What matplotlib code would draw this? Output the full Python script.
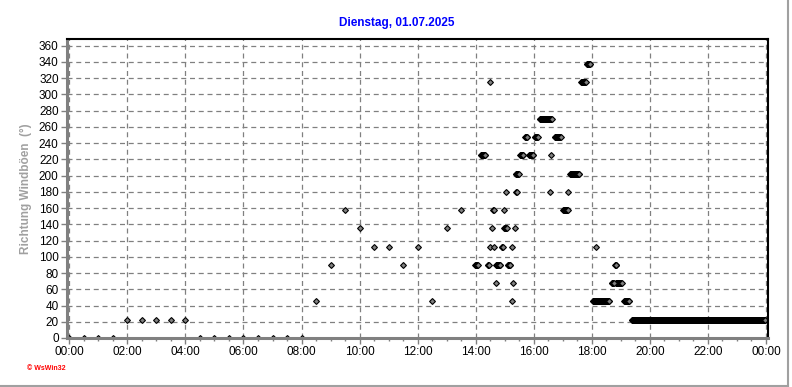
import matplotlib
matplotlib.use("Agg")
import matplotlib.pyplot as plt
from matplotlib.lines import Line2D
import numpy as np

plt.rcParams['font.family'] = ['Liberation Sans', 'DejaVu Sans']

# Einzelwerte (Uhrzeit, Richtung in Grad)
einzel_zeit = ["00:00", "00:30", "01:00", "01:30", "02:00", "02:30", "03:00", "03:30",
               "04:00", "04:30", "05:00", "05:30", "06:00", "06:30", "07:00", "07:30",
               "08:00", "08:30", "09:00", "09:30", "10:00", "10:30", "11:00", "11:30",
               "12:00", "12:30", "13:00", "13:30",
               "14:29", "14:30", "14:33", "14:38", "14:41", "14:58", "15:03", "15:15",
               "15:16", "15:18", "15:21", "16:34", "16:36", "17:11", "18:08"]
einzel_wert = [0, 0, 0, 0, 22.5, 22.5, 22.5, 22.5,
               22.5, 0, 0, 0, 0, 0, 0, 0,
               0, 45, 90, 157.5, 135, 112.5, 112.5, 90,
               112.5, 45, 135, 157.5,
               112.5, 315, 135, 112.5, 67.5, 157.5, 180, 112.5,
               45, 67.5, 135, 180, 225, 180, 112.5]

# Serien mit gleichbleibender Richtung (Beginn, Ende, Richtung), Messung jede Minute
serie_start = ["13:59", "14:10", "14:25", "14:36", "14:42", "14:54", "14:59", "15:06",
               "15:23", "15:24", "15:32", "15:42", "15:51", "16:02", "16:12", "16:43",
               "17:01", "17:15", "17:38", "17:50", "18:02", "18:41", "18:48", "18:50",
               "19:07", "19:23"]
serie_ende = ["14:04", "14:20", "14:27", "14:37", "14:51", "14:56", "15:04", "15:11",
              "15:29", "15:25", "15:38", "15:47", "15:59", "16:08", "16:37", "16:56",
              "17:10", "17:34", "17:47", "17:57", "18:36", "18:45", "18:51", "19:02",
              "19:17", "23:59"]
serie_wert = [90, 225, 90, 157.5, 90, 112.5, 135, 90,
              202.5, 180, 225, 247.5, 225, 247.5, 270, 247.5,
              157.5, 202.5, 315, 337.5, 45, 67.5, 90, 67.5,
              45, 22.5]


def stunden(s):
    h, m = s.split(":")
    return int(h) + int(m) / 60.0


fig = plt.figure(figsize=(7.92, 3.87), dpi=100)
ax = fig.add_axes([67 / 792, 1 - 338 / 387, 701 / 792, 299 / 387])

stil = dict(linestyle='none', marker='D', markersize=3.0, markeredgecolor='black',
            markeredgewidth=0.8)

# Serien: ueberlagerte Punkte erscheinen schwarz, der letzte Punkt grau
for a, b, w in zip(serie_start, serie_ende, serie_wert):
    xs = [m / 60.0 for m in range(int(round(stunden(a) * 60)), int(round(stunden(b) * 60)) + 1)]
    ax.plot(xs[:-1], [w] * (len(xs) - 1), markerfacecolor='black', zorder=2, **stil)
    ax.plot(xs[-1:], [w], markerfacecolor='#808080', zorder=2.1, **stil)

ax.plot([stunden(t) for t in einzel_zeit], einzel_wert, markerfacecolor='#808080',
        zorder=2.2, **stil)

ax.set_xlim(-0.08, 24.07)
ax.set_ylim(0, 368.3)
ax.set_xticks(np.arange(0, 25, 2))
ax.set_xticklabels(["%02d:00" % (h % 24) for h in range(0, 25, 2)])
ax.set_xticks(np.arange(0, 24.01, 0.5), minor=True)
ax.set_yticks(np.arange(0, 361, 20))
ax.tick_params(axis='both', which='major', direction='out', length=4, width=1,
               color='#808080', labelsize=8.5, pad=2)
ax.tick_params(axis='x', which='minor', direction='out', length=2.5, width=1, color='#808080')

ax.set_axisbelow(True)
ax.grid(True, which='major', color='#808080', linestyle=(0, (4, 3)), linewidth=0.9)

for s in ['left', 'bottom']:
    ax.spines[s].set_color('#808080')
    ax.spines[s].set_linewidth(2.2)
for s in ['top', 'right']:
    ax.spines[s].set_color('black')
    ax.spines[s].set_linewidth(1.5)

ax.set_ylabel('Richtung Windböen  (°)', color='#a0a0a0', fontsize=8.5, fontweight='bold')
ax.yaxis.set_label_coords(-0.05, 0.5)

fig.text(397 / 792, 1 - 23 / 387, 'Dienstag, 01.07.2025', color='#0000ff', fontsize=8.5,
         fontweight='bold', ha='center', va='center',
         family=['Liberation Sans Narrow', 'Liberation Sans', 'DejaVu Sans'])
fig.text(27 / 792, 1 - 368 / 387, '\u00a9 WsWin32', color='red', fontsize=5,
         fontweight='bold', ha='left', va='center')

# Rahmen rechts und unten
fig.add_artist(Line2D([788 / 792, 788 / 792], [1 - 386 / 387, 1], color='#a0a0a0', linewidth=1.5))
fig.add_artist(Line2D([0, 788 / 792], [1 - 386 / 387, 1 - 386 / 387], color='#a0a0a0', linewidth=1.5))

fig.savefig('out.png', dpi=100)
